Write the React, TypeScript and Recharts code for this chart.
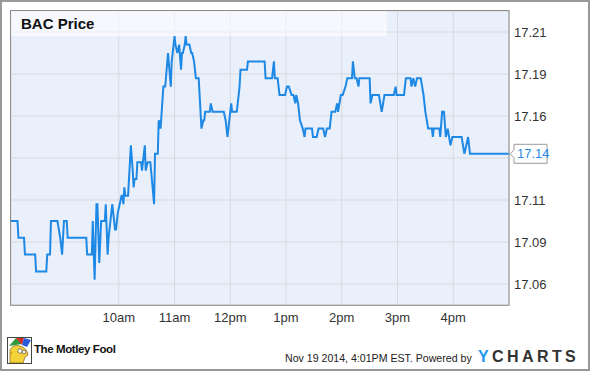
import React from 'react';
import { LineChart, Line, XAxis, YAxis, CartesianGrid, ReferenceDot } from 'recharts';

// minutes since midnight (Nov 19 2014)
const times = [
  484, 491, 492, 498, 499, 510, 511, 522, 523, 526,
  527, 534, 537, 539, 541, 544, 545, 565, 566, 571,
  572, 574, 576, 577, 579, 581, 585, 586, 588, 589,
  591, 593, 596, 597, 599, 601, 603, 604, 605, 606,
  607, 610, 613, 615, 616, 617, 619, 620, 624, 625,
  628, 629, 631, 634, 638, 639, 642, 643, 645, 648,
  650, 653, 656, 657, 660, 661, 663, 665, 667, 668,
  669, 671, 672, 673, 676, 678, 679, 681, 683, 686,
  687, 689, 691, 692, 693, 698, 699, 701, 713, 715,
  717, 719, 721, 722, 727, 730, 731, 733, 738, 739,
  757, 758, 765, 767, 768, 771, 773, 779, 781, 783,
  786, 788, 790, 791, 793, 795, 798, 800, 801, 808,
  809, 813, 815, 820, 822, 824, 827, 829, 833, 835,
  836, 839, 841, 844, 846, 851, 852, 854, 856, 858,
  859, 870, 871, 873, 880, 883, 886, 896, 898, 899,
  907, 909, 914, 915, 917, 919, 921, 925, 928, 930,
  933, 937, 938, 939, 945, 946, 948, 950, 952, 954,
  957, 959, 969, 972, 976, 978, 1020,
];

const prices = [
  17.10, 17.10, 17.09, 17.09, 17.08, 17.08, 17.07, 17.07, 17.08, 17.08,
  17.10, 17.10, 17.09, 17.08, 17.10, 17.10, 17.09, 17.09, 17.08, 17.08,
  17.10, 17.065, 17.11, 17.11, 17.075, 17.10, 17.10, 17.11, 17.08, 17.09,
  17.10, 17.11, 17.095, 17.095, 17.105, 17.11, 17.115, 17.115, 17.11, 17.12,
  17.115, 17.115, 17.145, 17.13, 17.12, 17.125, 17.125, 17.135, 17.135, 17.13,
  17.145, 17.13, 17.135, 17.135, 17.11, 17.14, 17.14, 17.16, 17.155, 17.18,
  17.18, 17.20, 17.18, 17.195, 17.21, 17.205, 17.20, 17.205, 17.19, 17.20,
  17.20, 17.205, 17.21, 17.205, 17.205, 17.20, 17.20, 17.195, 17.185, 17.185,
  17.175, 17.155, 17.16, 17.16, 17.165, 17.165, 17.17, 17.165, 17.165, 17.16,
  17.15, 17.16, 17.17, 17.165, 17.165, 17.18, 17.19, 17.19, 17.19, 17.195,
  17.195, 17.185, 17.185, 17.195, 17.185, 17.185, 17.175, 17.175, 17.18, 17.18,
  17.175, 17.175, 17.17, 17.175, 17.17, 17.16, 17.155, 17.15, 17.155, 17.155,
  17.15, 17.15, 17.155, 17.155, 17.15, 17.155, 17.155, 17.165, 17.165, 17.17,
  17.165, 17.175, 17.175, 17.18, 17.185, 17.185, 17.195, 17.185, 17.185, 17.18,
  17.185, 17.185, 17.17, 17.175, 17.175, 17.165, 17.175, 17.175, 17.18, 17.175,
  17.175, 17.185, 17.185, 17.18, 17.185, 17.18, 17.185, 17.185, 17.175, 17.165,
  17.155, 17.155, 17.15, 17.155, 17.155, 17.15, 17.165, 17.165, 17.15, 17.155,
  17.145, 17.15, 17.15, 17.14, 17.15, 17.14, 17.14,
];

const hourTicks = [600, 660, 720, 780, 840, 900, 960];
const hourLabels = ['10am', '11am', '12pm', '1pm', '2pm', '3pm', '4pm'];
const priceTicks = [17.0625, 17.0875, 17.1125, 17.1375, 17.1625, 17.1875, 17.2125];
const priceLabels = ['17.06', '17.09', '17.11', '', '17.16', '17.19', '17.21'];
const lastLabel = '17.14';
const title = 'BAC Price';
const stamp = 'Nov 19 2014, 4:01PM EST. Powered by';

const data = times.map((t, i) => ({ t, p: prices[i] }));

const FONT = '"Liberation Sans", Arial, Helvetica, sans-serif';

const LastTag = (props: any) => {
  const { cx, cy } = props;
  if (cx == null || cy == null) return null;
  const x = cx + 1;
  const d = `M${x},${cy} L${x + 4},${cy - 4} L${x + 4},${cy - 9.5} L${x + 37},${cy - 9.5} L${x + 37},${cy + 9.5} L${x + 4},${cy + 9.5} L${x + 4},${cy + 4} Z`;
  return (
    <g>
      <path d={d} fill="#ffffff" stroke="#9a9a9a" strokeWidth={1} />
      <text x={x + 7} y={cy + 4.6} fill="#2a8ae2" fontSize={13} fontFamily={FONT}>
        {lastLabel}
      </text>
    </g>
  );
};

export default function App() {
  return (
    <div style={{ position: 'absolute', left: 0, top: 0, width: 590, height: 371, background: '#ffffff', fontFamily: FONT }}>
      <LineChart width={590} height={371} data={data} margin={{ top: 11, right: 0, bottom: 0, left: 11 }}>
        <CartesianGrid stroke="#d6d9de" fill="#eaf0fb" fillOpacity={1} />
        <XAxis
          type="number"
          dataKey="t"
          domain={[484, 1020]}
          ticks={hourTicks}
          interval={0}
          allowDataOverflow
          height={66}
          axisLine={false}
          tickLine={false}
          tickSize={0}
          tickMargin={8}
          tick={{ fill: '#333333', fontSize: 13, fontFamily: FONT }}
          tickFormatter={(v: number) => hourLabels[hourTicks.indexOf(v)] ?? ''}
        />
        <YAxis
          orientation="right"
          type="number"
          domain={[17.05, 17.225]}
          ticks={priceTicks}
          interval={0}
          allowDataOverflow
          width={81}
          axisLine={false}
          tickLine={false}
          tickSize={0}
          tickMargin={5}
          tick={{ fill: '#333333', fontSize: 13, fontFamily: FONT }}
          tickFormatter={(v: number) => priceLabels[priceTicks.indexOf(v)] ?? ''}
        />
        <Line
          type="linear"
          dataKey="p"
          stroke="#1e88e5"
          strokeWidth={2}
          dot={false}
          activeDot={false}
          isAnimationActive={false}
        />
        <ReferenceDot x={times[times.length - 1]} y={prices[prices.length - 1]} ifOverflow="visible" shape={LastTag} />
      </LineChart>
      <svg width={590} height={371} style={{ position: 'absolute', left: 0, top: 0, pointerEvents: 'none' }}>
        <rect x={11} y={11} width={376} height={25} fill="#ffffff" fillOpacity={0.55} />
        <text x={21} y={29} fontSize={15} fontWeight="bold" fill="#111111" fontFamily={FONT}>{title}</text>
        <rect x={10.5} y={10.5} width={498.5} height={294.8} fill="none" stroke="#8c8c8c" strokeWidth={1} />
        <rect x={1} y={1} width={588} height={369} fill="none" stroke="#999999" strokeWidth={2} />
        {/* Motley Fool logo */}
        <g>
          <rect x={7.5} y={337.5} width={24} height={26} fill="#ffffff" stroke="#444" strokeWidth={1} />
          <path d="M9,346 L16,338 L22,344 Z" fill="#2e9a3a" />
          <path d="M16,338 L24,338 L22,345 Z" fill="#d62b2b" />
          <path d="M24,338 L31,340 L27,347 L22,345 Z" fill="#2a5bd6" />
          <path d="M10,363 L10,350 Q13,344 20,346 Q27,348 28,355 L25,357 L23,363 Z" fill="#f3d23a" stroke="#6b4a10" strokeWidth={0.6} />
          <circle cx={20} cy={351} r={2.2} fill="#ffffff" stroke="#333" strokeWidth={0.6} />
          <circle cx={24} cy={352} r={1.8} fill="#ffffff" stroke="#333" strokeWidth={0.6} />
          <circle cx={11} cy={353} r={1.3} fill="#d4a020" />
        </g>
        <text x={34} y={352.5} fontSize={11.5} fontWeight="bold" fill="#111111" letterSpacing={-0.4} fontFamily={FONT}>The Motley Fool</text>
        <text x={285} y={361.7} fontSize={10.6} fill="#222222" fontFamily={FONT}>{stamp}</text>
        <text x={478} y={362.3} fontSize={16} fontWeight="bold" fontFamily={FONT} letterSpacing={3.4}>
          <tspan fill="#2196f3">Y</tspan>
          <tspan fill="#333333">CHARTS</tspan>
        </text>
      </svg>
    </div>
  );
}
